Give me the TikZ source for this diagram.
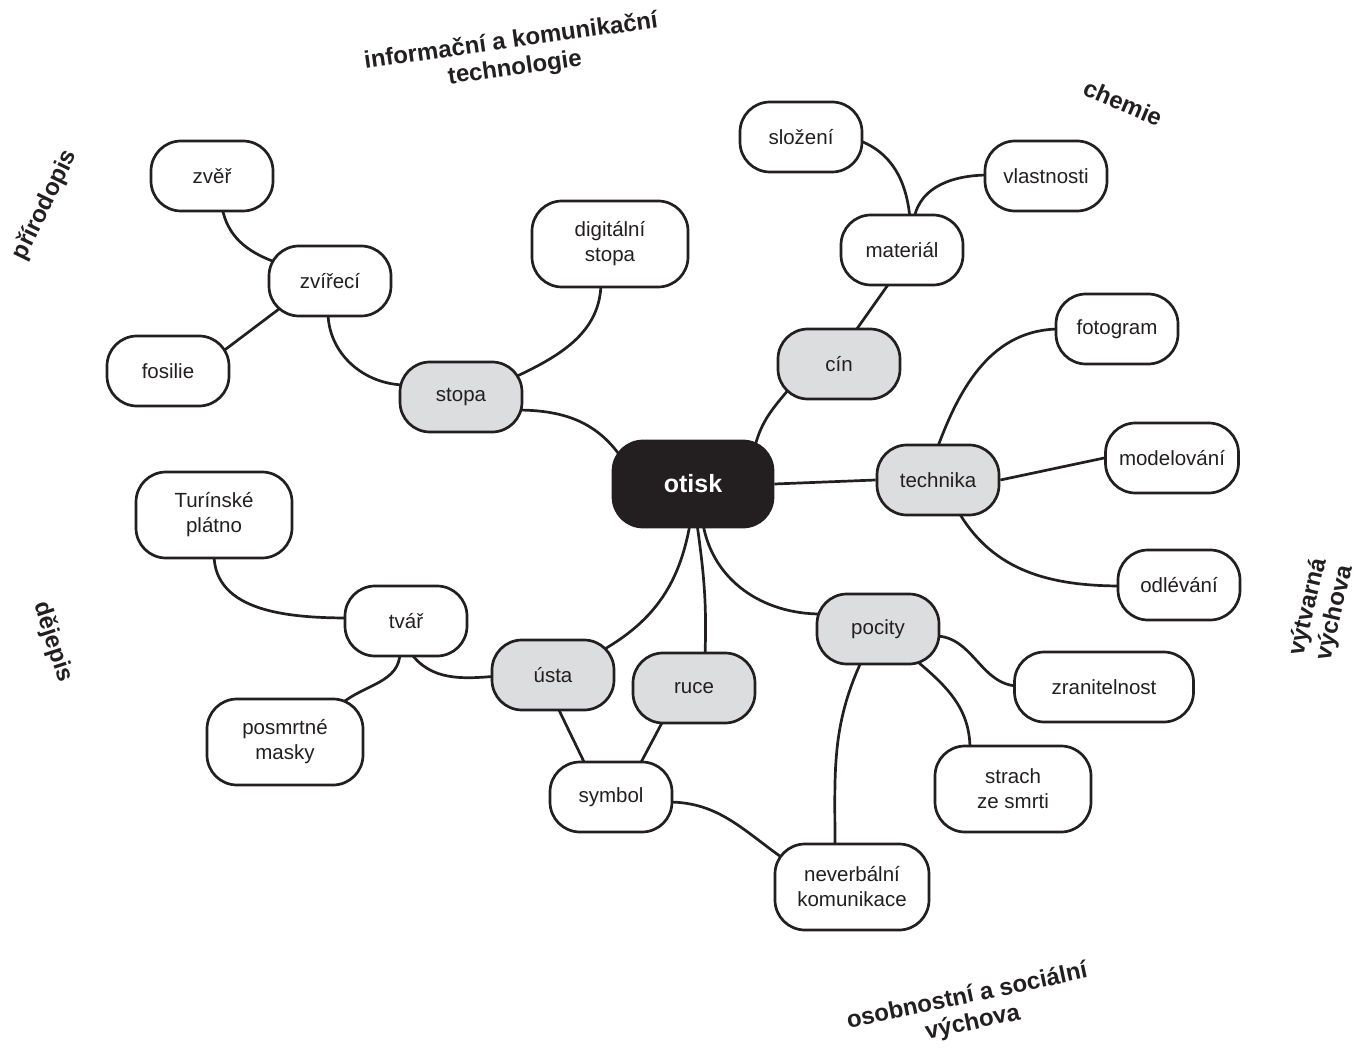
\documentclass[tikz,border=0pt]{standalone}
\usepackage{fontspec}
\setmainfont{Liberation Sans}
\usetikzlibrary{positioning}
\definecolor{ink}{HTML}{231F20}
\definecolor{pale}{HTML}{DCDDDE}
\pgfdeclarelayer{background}
\pgfsetlayers{background,main}

\begin{document}
\begin{tikzpicture}[x=1pt, y=1pt, line width=2.7pt, draw=ink,
	box/.style={rectangle,draw=ink,fill=white,rounded corners=30pt,minimum width=122pt,minimum height=70pt,align=center,font=\fontsize{20.5}{25}\selectfont,text=ink},
	key/.style={box,fill=pale},
	twoline/.style={box,minimum width=156pt,minimum height=86pt},
	hub/.style={box,fill=ink,text=white,minimum width=160pt,minimum height=86pt,font=\fontsize{25}{30}\selectfont\bfseries},
	subject/.style={align=center,text=ink,font=\fontsize{24}{27}\selectfont\bfseries},
	link/.style={draw=ink,line width=2.7pt}]
	\useasboundingbox (0,0) rectangle (1371,-1048);
	% main branches
	\node[hub] (otisk) at (693,-484) {otisk};
	\node[key] (stopa) at (461,-397) {stopa};
	\node[key] (cin) at (839,-364) {cín};
	\node[key] (technika) at (938,-480) {technika};
	\node[key] (pocity) at (878,-629) {pocity};
	\node[key] (usta) at (553,-675) {ústa};
	\node[key] (ruce) at (694,-688) {ruce};
	% leaves
	\node[box] (zver) at (212,-176) {zvěř};
	\node[box] (zvireci) at (330,-281) {zvířecí};
	\node[box] (fosilie) at (168,-371) {fosilie};
	\node[twoline] (digitalni) at (610,-244) {digitální\\stopa};
	\node[box] (slozeni) at (801,-137) {složení};
	\node[box] (vlastnosti) at (1046,-176) {vlastnosti};
	\node[box] (material) at (902,-250) {materiál};
	\node[box] (fotogram) at (1117,-329) {fotogram};
	\node[box, minimum width=133pt] (modelovani) at (1172,-458) {modelování};
	\node[box] (odlevani) at (1179,-585) {odlévání};
	\node[box, minimum width=179pt] (zranitelnost) at (1104,-687) {zranitelnost};
	\node[twoline] (strach) at (1013,-789) {strach\\ze smrti};
	\node[twoline, minimum width=154pt] (neverbalni) at (852,-887) {neverbální\\komunikace};
	\node[box] (symbol) at (611,-797) {symbol};
	\node[twoline] (turinske) at (214,-515) {Turínské\\plátno};
	\node[box] (tvar) at (406,-621) {tvář};
	\node[twoline] (posmrtne) at (285,-742) {posmrtné\\masky};
	% subjects
	\node[subject, rotate=8] (ict) at (513,-55) {informační a komunikační\\technologie};
	\node[subject, rotate=64] (prir) at (45,-205) {přírodopis};
	\node[subject, rotate=-23] (chem) at (1123,-103) {chemie};
	\node[subject, rotate=77] (vv) at (1322,-610) {výtvarná\\výchova};
	\node[subject, rotate=-72] (dej) at (53,-642) {dějepis};
	\node[subject, rotate=12] (osv) at (970,-1010) {osobnostní a sociální\\výchova};
	% connectors
	\begin{pgfonlayer}{background}
	\draw[link] ([shift={(55,-13)}]stopa.center) to[out=0, in=125] ([shift={(-72,27)}]otisk.center);
	\draw[link] ([shift={(52,19)}]stopa.center) to[out=25, in=-90] ([shift={(-9,-38)}]digitalni.center);
	\draw[link] ([shift={(-55,12)}]stopa.center) to[out=180, in=-90] ([shift={(-2,-31)}]zvireci.center);
	\draw[link] ([shift={(10,-31)}]zver.center) to[out=-80, in=160] ([shift={(-55,19)}]zvireci.center);
	\draw[link] ([shift={(-47,-25)}]zvireci.center) -- ([shift={(54,19)}]fosilie.center);
	\draw[link] ([shift={(62,38)}]otisk.center) to[out=75, in=-130] ([shift={(-50,-25)}]cin.center);
	\draw[link] ([shift={(15,31)}]cin.center) -- ([shift={(-12,-32)}]material.center);
	\draw[link] ([shift={(8,31)}]material.center) to[out=95, in=-20] ([shift={(57,-3)}]slozeni.center);
	\draw[link] ([shift={(12,31)}]material.center) to[out=80, in=180] ([shift={(-57,1)}]vlastnosti.center);
	\draw[link] (otisk.east) -- (technika.west);
	\draw[link] ([shift={(-1,31)}]technika.center) to[out=70, in=180] ([shift={(-57,0)}]fotogram.center);
	\draw[link] (technika.east) -- (modelovani.west);
	\draw[link] ([shift={(20,-31)}]technika.center) to[out=-60, in=180] ([shift={(-57,-1)}]odlevani.center);
	\draw[link] ([shift={(10,-40)}]otisk.center) to[out=-80, in=180] ([shift={(-57,15)}]pocity.center);
	\draw[link] ([shift={(4,-40)}]otisk.center) to[out=-82, in=88] ([shift={(11,32)}]ruce.center);
	\draw[link] ([shift={(-3,-40)}]otisk.center) to[out=-100, in=30] ([shift={(50,25)}]usta.center);
	\draw[link] ([shift={(-55,-1)}]usta.center) to[out=185, in=-55] ([shift={(4,-31)}]tvar.center);
	\draw[link] ([shift={(-56,3)}]tvar.center) to[out=180, in=-90] ([shift={(0,-39)}]turinske.center);
	\draw[link] ([shift={(-6,-31)}]tvar.center) to[out=-90, in=40] ([shift={(56,38)}]posmrtne.center);
	\draw[link] ([shift={(4,-31)}]usta.center) -- ([shift={(-25,31)}]symbol.center);
	\draw[link] ([shift={(-30,-31)}]ruce.center) -- ([shift={(27,29)}]symbol.center);
	\draw[link] ([shift={(57,-5)}]symbol.center) to[out=0, in=145] ([shift={(-68,28)}]neverbalni.center);
	\draw[link] ([shift={(-16,-31)}]pocity.center) to[out=-115, in=90] ([shift={(-17,40)}]neverbalni.center);
	\draw[link] ([shift={(57,-7)}]pocity.center) to[out=0, in=180] ([shift={(-85,1)}]zranitelnost.center);
	\draw[link] ([shift={(34,-28)}]pocity.center) to[out=-40, in=90] ([shift={(-43,40)}]strach.center);
	\end{pgfonlayer}
\end{tikzpicture}
\end{document}
